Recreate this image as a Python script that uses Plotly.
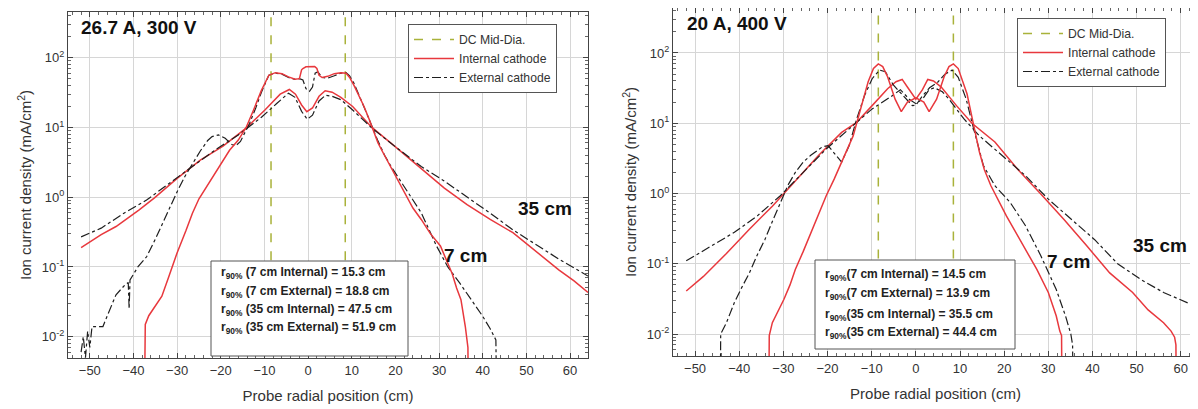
import plotly.graph_objects as go

# page body keeps an 8 px margin, so the figure is laid out in reference pixels shifted by OFF
OFF = 8
W, H = 1198 - OFF, 409 - OFF


def PX(p):
    return (p - OFF) / W


def PY(p):
    return 1 - (p - OFF) / H


# ---------------- data: left panel (26.7 A, 300 V) ----------------
L_int7_x = [-37.5, -37.3, -36.5, -35.5, -34.5, -33.5, -32, -30, -28, -26.5, -25, -23, -21, -19.5, -18, -16, -14.2,
            -12.5, -10.7, -9, -7.5, -6, -4.5, -3, -2, -1.5, -1.2, -0.5, 0.5, 1.5, 2.0, 2.5, 3.2, 4.5, 6, 7.5, 8.7,
            9.5, 10.5, 11.5, 12.8, 14, 15, 16, 17.2, 19.5, 21.6, 24, 25.9, 28, 30.3, 32, 33, 34, 35, 36, 36.6, 36.7]
L_int7_y = [0.001, 0.015, 0.02, 0.025, 0.03, 0.038, 0.07, 0.16, 0.33, 0.59, 0.95, 1.5, 2.4, 3.4, 4.7, 6.6, 10,
            17.8, 34, 56, 61, 59, 53, 49, 50, 67, 70, 74, 75, 75, 70, 56, 52, 54, 59, 61, 60,
            52, 40, 30, 20, 13, 8.7, 6.0, 4.3, 2.3, 1.3, 0.7, 0.48, 0.3, 0.2, 0.11, 0.08, 0.05, 0.034, 0.014, 0.007, 0.001]

L_ext7_x = [-52, -51.5, -51, -50.5, -50, -49.5, -49, -47, -46, -44, -42, -41.2, -41, -40.8, -39, -37, -35, -32.6,
            -30, -28.2, -26, -24.7, -23, -22, -20.5, -19, -17.5, -16.5, -15.5, -14.5, -13.4, -12, -10.7, -9, -7.5,
            -6, -4.5, -3, -2, -1.2, -0.5, 0.3, 1.0, 1.6, 2.2, 3.2, 4.5, 6, 7.5, 8.7, 9.5, 10.5, 12, 13.7, 15.9,
            17.5, 19, 22.4, 25.9, 29.4, 32, 34.7, 37.3, 39.9, 41.7, 43, 43.2]
L_ext7_y = [0.006, 0.01, 0.005, 0.012, 0.007, 0.014, 0.014, 0.014, 0.02, 0.04, 0.055, 0.06, 0.025, 0.065, 0.1,
            0.14, 0.25, 0.54, 1.2, 2.0, 3.4, 4.6, 6.5, 7.4, 7.8, 7.0, 5.7, 5.5, 6.3, 8.3, 11.5, 19, 32, 56, 60,
            58, 52, 49, 50, 48, 36, 33, 38, 60, 63, 52, 51, 55, 60, 61, 55, 43, 26, 14.4, 6.6,
            4.0, 2.75, 1.3, 0.6, 0.2, 0.1, 0.059, 0.034, 0.02, 0.013, 0.009, 0.001]

L_int35_x = [-52, -47.4, -44, -38.7, -35.2, -30, -24.7, -19.5, -14.2, -9.9, -6.4, -4.3, -2.9, -1.5, -0.3, 1, 2.5,
             3.9, 5.5, 7.5, 10.2, 14.6, 19.8, 25.9, 31.2, 36.4, 41.7, 46.9, 52.1, 57.4, 60.9, 64.1]
L_int35_y = [0.19, 0.29, 0.38, 0.66, 0.98, 1.86, 3.4, 5.4, 9.8, 17.8, 30, 35, 30, 21, 16.8, 19, 28,
             33.6, 32, 27, 20, 10, 5.4, 2.6, 1.35, 0.78, 0.48, 0.31, 0.17, 0.091, 0.063, 0.043]

L_ext35_x = [-52, -47.4, -42.2, -37, -31.7, -26.5, -21.2, -16, -10.7, -7.2, -4.5, -3, -1.5, -0.2, 1, 2.5, 4,
             5.5, 7.5, 10.2, 14.6, 19.8, 25.9, 31.2, 36.4, 41.7, 46.9, 52.1, 57.4, 64.1]
L_ext35_y = [0.27, 0.36, 0.59, 0.91, 1.6, 2.75, 4.8, 7.8, 14, 22, 31, 27, 17, 13.1, 15, 24, 29,
             28, 25, 17.8, 9.8, 5.4, 2.75, 1.7, 1.02, 0.59, 0.34, 0.21, 0.13, 0.074]

# ---------------- data: right panel (20 A, 400 V) ----------------
R_int7_x = [-33.3, -33.2, -32.5, -31, -29.9, -28.5, -27.3, -25.5, -23.8, -22, -20.3, -18.5, -16.8, -14.2, -12.5,
            -10.8, -9.6, -8.5, -7.5, -6.4, -4.7, -3.3, -1.9, 0, 1.8, 3.0, 4.7, 6.4, 7.5, 8.5, 9.6, 10.8, 11.6,
            13.1, 14.4, 15.5, 17, 20.5, 24, 27.4, 30, 31.8, 32.6, 33.0, 33.1]
R_int7_y = [0.001, 0.0095, 0.0145, 0.022, 0.031, 0.05, 0.083, 0.15, 0.27, 0.5, 0.93, 1.6, 2.8, 6.6, 16,
            39, 60, 70, 64, 46, 22, 14.6, 20, 23, 20, 14.6, 22, 46, 64, 70, 60, 36, 26,
            9.3, 3.9, 2.2, 1.29, 0.48, 0.2, 0.083, 0.039, 0.018, 0.011, 0.0095, 0.001]

R_ext7_x = [-44.3, -44.2, -42.9, -41.1, -39.5, -37.7, -36, -34.2, -32.5, -30.7, -29, -27.3, -25.5, -23.8, -21.2,
            -19.9, -18.1, -16.8, -15.1, -13.4, -11.6, -9.9, -8.2, -6.9, -5.1, -3, -0.8, 0, 1.4, 3.1, 4.9, 6.6,
            8.2, 9.6, 11.4, 13.1, 15.3, 17.9, 21.4, 24.8, 28.3, 31.8, 33.9, 35.1, 35.5, 35.6]
R_ext7_y = [0.001, 0.01, 0.0145, 0.028, 0.045, 0.074, 0.13, 0.22, 0.4, 0.74, 1.3, 2.0, 2.8, 3.5, 4.6,
            4.8, 3.5, 2.8, 4.8, 11.5, 25, 43, 57, 54, 35, 25, 17.8, 18, 24, 32, 38, 50,
            57, 45, 22, 8.3, 2.5, 1.29, 0.74, 0.35, 0.13, 0.043, 0.018, 0.01, 0.007, 0.001]

R_int35_x = [-52, -48.1, -42.9, -37.7, -32.5, -27.3, -22, -16.8, -13.4, -9.9, -6.4, -4.5, -3.1, -1.8, 0, 1.5,
             2.7, 4, 5.7, 9.2, 12.7, 17.9, 23.1, 28.3, 33.5, 38.7, 43.9, 49.1, 52.6, 56.1, 57.8, 58.6, 58.9, 59.0]
R_int35_y = [0.041, 0.066, 0.14, 0.31, 0.66, 1.5, 3.5, 7.4, 10.3, 17.8, 31, 39, 42, 32, 22, 30,
             42, 40, 33, 17.8, 10, 5.4, 2.2, 0.98, 0.43, 0.18, 0.074, 0.039, 0.022, 0.0145, 0.011, 0.009, 0.007, 0.001]

R_ext35_x = [-52, -46.4, -41.1, -35.9, -30.7, -25.5, -20.3, -15.1, -9.9, -5.6, -3.5, -1.5, 0, 1.5, 3, 4.2, 6,
             7.5, 10.9, 14.4, 19.6, 24.8, 30, 35.2, 40.5, 45.7, 50.9, 56.1, 61.3, 63.9]
R_ext35_y = [0.11, 0.18, 0.28, 0.48, 0.93, 2.0, 4.3, 8.3, 16, 24, 30, 22, 19, 22, 30, 32, 28,
             22, 11.5, 6.6, 3.5, 1.8, 0.83, 0.43, 0.22, 0.10, 0.06, 0.039, 0.028, 0.024]

DC_MID = [-8.5, 8.5]
Y_TICKS = [0.01, 0.1, 1, 10, 100]
Y_TICKTEXT = ["10<sup>-2</sup>", "10<sup>-1</sup>", "10<sup>0</sup>", "10<sup>1</sup>", "10<sup>2</sup>"]
X_TICKS = [-50, -40, -30, -20, -10, 0, 10, 20, 30, 40, 50, 60]

r90_left = ["r<sub>90%</sub> (7 cm Internal) = 15.3 cm", "r<sub>90%</sub> (7 cm External) = 18.8 cm",
            "r<sub>90%</sub> (35 cm Internal) = 47.5 cm", "r<sub>90%</sub> (35 cm External) = 51.9 cm"]
r90_right = ["r<sub>90%</sub>(7 cm Internal) = 14.5 cm", "r<sub>90%</sub>(7 cm External) = 13.9 cm",
             "r<sub>90%</sub>(35 cm Internal) = 35.5 cm", "r<sub>90%</sub>(35 cm External) = 44.4 cm"]

RED = "#e8383d"
BLK = "#1e1e1e"
DCC = "#a9b23a"
FONT = "Arial, 'Liberation Sans', sans-serif"

fig = go.Figure()


def add_panel(xa, ya, leg, int7, ext7, int35, ext35):
    dx, dy = [], []
    for v in DC_MID:
        dx += [v, v, None]
        dy += [1e-4, 1e4, None]
    fig.add_trace(go.Scatter(x=dx, y=dy, mode="lines", name="DC Mid-Dia.",
                             line=dict(color=DCC, width=1.5, dash="dash"),
                             xaxis=xa, yaxis=ya, legend=leg))
    fig.add_trace(go.Scatter(x=int35[0], y=int35[1], mode="lines", name="Internal cathode",
                             line=dict(color=RED, width=1.5), xaxis=xa, yaxis=ya, legend=leg))
    fig.add_trace(go.Scatter(x=ext35[0], y=ext35[1], mode="lines", name="External cathode",
                             line=dict(color=BLK, width=1.2, dash="dashdot"), xaxis=xa, yaxis=ya, legend=leg))
    fig.add_trace(go.Scatter(x=ext7[0], y=ext7[1], mode="lines", showlegend=False,
                             line=dict(color=BLK, width=1.2, dash="dashdot"), xaxis=xa, yaxis=ya))
    fig.add_trace(go.Scatter(x=int7[0], y=int7[1], mode="lines", showlegend=False,
                             line=dict(color=RED, width=1.5), xaxis=xa, yaxis=ya))


add_panel("x", "y", "legend", (L_int7_x, L_int7_y), (L_ext7_x, L_ext7_y),
          (L_int35_x, L_int35_y), (L_ext35_x, L_ext35_y))
add_panel("x2", "y2", "legend2", (R_int7_x, R_int7_y), (R_ext7_x, R_ext7_y),
          (R_int35_x, R_int35_y), (R_ext35_x, R_ext35_y))

minor_y = [k * 10.0 ** e for e in range(-3, 3) for k in range(2, 10)]

xcommon = dict(tickvals=X_TICKS, ticks="inside", ticklen=5, tickcolor="#444",
               showline=True, linecolor="#444", linewidth=1, mirror="ticks", automargin=False,
               showgrid=True, gridcolor="#d6d6d6", gridwidth=1, zeroline=False,
               minor=dict(dtick=2, ticks="inside", ticklen=3, tickcolor="#666", showgrid=False),
               tickfont=dict(size=13, color="#333", family=FONT),
               title=dict(text="Probe radial position (cm)", font=dict(size=15, color="#333", family=FONT),
                          standoff=13))
ycommon = dict(type="log", tickvals=Y_TICKS, ticktext=Y_TICKTEXT, ticks="inside", ticklen=5,
               tickcolor="#444", showline=True, linecolor="#444", linewidth=1, mirror="ticks", automargin=False,
               showgrid=True, gridcolor="#d6d6d6", gridwidth=1, zeroline=False,
               minor=dict(tickmode="array", tickvals=minor_y, ticks="inside", ticklen=3,
                          tickcolor="#666", showgrid=False),
               tickfont=dict(size=13, color="#333", family=FONT),
               title=dict(text="Ion current density (mA/cm<sup>2</sup>)",
                          font=dict(size=15, color="#333", family=FONT), standoff=6))

fig.update_layout(
    width=W, height=H, margin=dict(l=0, r=0, t=0, b=0, autoexpand=False),
    paper_bgcolor="white", plot_bgcolor="white",
    font=dict(family=FONT, color="#222"),
    xaxis=dict(xcommon, domain=[PX(68), PX(588)], range=[-55, 64.1], anchor="y"),
    yaxis=dict(ycommon, domain=[PY(358), PY(12)], range=[-2.305, 2.655], anchor="x"),
    xaxis2=dict(xcommon, domain=[PX(673), 1.0], range=[-55, 63.9], anchor="y2"),
    yaxis2=dict(ycommon, domain=[PY(356), PY(8)], range=[-2.313, 2.64], anchor="x2"),
    legend=dict(x=PX(408), y=PY(24), xanchor="left", yanchor="top", xref="paper", yref="paper",
                bgcolor="white", bordercolor="#555", borderwidth=1,
                font=dict(size=12.2, color="#333", family=FONT), tracegroupgap=0, itemwidth=40),
    legend2=dict(x=PX(1017), y=PY(18), xanchor="left", yanchor="top", xref="paper", yref="paper",
                 bgcolor="white", bordercolor="#555", borderwidth=1,
                 font=dict(size=12.2, color="#333", family=FONT), tracegroupgap=0, itemwidth=40),
)

shapes = []
annots = []


def box(x0, y0, x1, y1, lines, ys, tx):
    shapes.append(dict(type="rect", xref="paper", yref="paper", x0=PX(x0), x1=PX(x1),
                       y0=PY(y1), y1=PY(y0), line=dict(color="#555", width=1),
                       fillcolor="white", layer="above"))
    for t, yy in zip(lines, ys):
        annots.append(dict(text="<b>" + t + "</b>", xref="paper", yref="paper", x=PX(tx), y=PY(yy),
                           xanchor="left", yanchor="middle", showarrow=False,
                           font=dict(size=12, color="#222", family=FONT)))


box(211, 261, 408, 356, r90_left, [273, 292, 310, 328], 219)
box(815, 260, 1015, 349, r90_right, [275, 294, 315, 333], 823)


def label(text, px, py, size, anchor="left"):
    annots.append(dict(text="<b>" + text + "</b>", xref="paper", yref="paper", x=PX(px), y=PY(py),
                       xanchor=anchor, yanchor="middle", showarrow=False,
                       font=dict(size=size, color="#111", family=FONT)))


label("26.7 A, 300 V", 79, 27, 19)
label("20 A, 400 V", 685, 23, 19)
label("35 cm", 516, 208, 19)
label("7 cm", 442, 255, 19)
label("35 cm", 1131, 245, 19)
label("7 cm", 1045, 262, 19)

fig.update_layout(shapes=shapes, annotations=annots)
fig.write_html("out.html")
